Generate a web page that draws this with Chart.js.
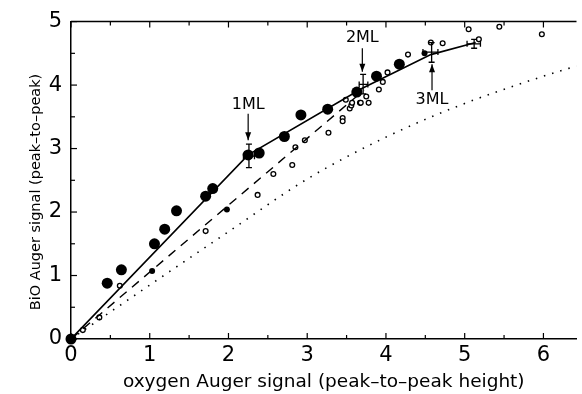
<!DOCTYPE html>
<html>
<head>
<meta charset="utf-8">
<script src="https://cdn.jsdelivr.net/npm/chart.js@4/dist/chart.umd.min.js"></script>
<style>
  html, body { margin: 0; padding: 0; background: #fff; }
  #wrap { width: 582px; height: 394px; position: relative; }
</style>
</head>
<body>
<div id="wrap"><canvas id="augerChart"></canvas></div>
<script>
"use strict";

// large filled circles (main series)
const bigX = [0, 0.46, 0.64, 1.06, 1.19, 1.34, 1.71, 1.80, 2.25, 2.39, 2.71, 2.92, 3.26, 3.63, 3.88, 4.17];
const bigY = [0, 0.88, 1.09, 1.50, 1.73, 2.02, 2.25, 2.37, 2.90, 2.93, 3.19, 3.53, 3.62, 3.89, 4.14, 4.33];

// small filled points
const smallX = [1.03, 1.98, 4.49];
const smallY = [1.07, 2.04, 4.50];

// small open circles
const openX = [0.15, 0.36, 0.62, 1.71, 2.37, 2.57, 2.81, 2.85, 2.97, 3.27, 3.45, 3.45, 3.49, 3.54, 3.56,
  3.57, 3.67, 3.68, 3.75, 3.78, 3.91, 3.96, 4.02, 4.28, 4.57, 4.72, 5.05, 5.18, 5.44, 5.98];
const openY = [0.14, 0.34, 0.84, 1.70, 2.27, 2.60, 2.74, 3.02, 3.13, 3.25, 3.48, 3.43, 3.77, 3.63, 3.68,
  3.72, 3.72, 3.72, 3.82, 3.72, 3.93, 4.05, 4.20, 4.48, 4.67, 4.66, 4.88, 4.72, 4.92, 4.80];

// curves
const solidX = [0, 2.25, 3.70, 4.57, 5.14];
const solidY = [0, 2.90, 3.95, 4.48, 4.67];
const dashedX = [0, 3.72];
const dashedY = [0, 3.92];
const dottedX = [0, 1, 2, 3, 4, 5, 6, 6.42];
const dottedY = [0, 0.85, 1.69, 2.52, 3.18, 3.71, 4.14, 4.30];

// error bars
const errX = [2.26, 3.71, 4.58, 5.12];
const errY = [2.88, 4.01, 4.52, 4.65];
const errYLo = [2.70, 3.86, 4.36, 4.58];
const errYHi = [3.07, 4.17, 4.67, 4.72];
const errXLo = [2.19, 3.66, 4.47, 5.03];
const errXHi = [2.33, 3.77, 4.66, 5.20];

// monolayer labels
const mlText = ["1ML", "2ML", "3ML"];
const mlX = [2.25, 3.70, 4.585];
const mlTextY = [3.69, 4.75, 3.77];
const mlArrowFrom = [3.55, 4.58, 3.92];
const mlArrowTo = [3.13, 4.21, 4.33];

const xTicks = [0, 1, 2, 3, 4, 5, 6];
const yTicks = [0, 1, 2, 3, 4, 5];
const yTitle = "BiO Auger signal (peak–to–peak)";

const toPoints = (xs, ys) => xs.map((x, i) => ({ x: x, y: ys[i] }));

const FONT = "'DejaVu Sans', sans-serif";

const extrasPlugin = {
  id: "extras",
  afterDatasetsDraw(chart) {
    const ctx = chart.ctx;
    const xs = chart.scales.x;
    const ys = chart.scales.y;
    const area = chart.chartArea;
    ctx.save();
    ctx.strokeStyle = "#000";
    ctx.fillStyle = "#000";

    // top frame line
    ctx.lineWidth = 1.5;
    ctx.beginPath();
    ctx.moveTo(area.left, area.top);
    ctx.lineTo(area.right, area.top);
    ctx.stroke();

    // inward ticks
    ctx.lineWidth = 1.2;
    for (let v = 0; v <= 6.4; v += 0.5) {
      const px = xs.getPixelForValue(v);
      const len = Number.isInteger(v) ? 6 : 4;
      ctx.beginPath();
      ctx.moveTo(px, area.bottom);
      ctx.lineTo(px, area.bottom - len);
      ctx.moveTo(px, area.top);
      ctx.lineTo(px, area.top + len);
      ctx.stroke();
    }
    for (let v = 0; v <= 5; v += 0.5) {
      const py = ys.getPixelForValue(v);
      const len = Number.isInteger(v) ? 6 : 4;
      ctx.beginPath();
      ctx.moveTo(area.left, py);
      ctx.lineTo(area.left + len, py);
      ctx.stroke();
    }

    // error bars
    ctx.lineWidth = 1.3;
    errX.forEach((x, i) => {
      const px = xs.getPixelForValue(x);
      const py = ys.getPixelForValue(errY[i]);
      const top = ys.getPixelForValue(errYHi[i]);
      const bot = ys.getPixelForValue(errYLo[i]);
      const l = xs.getPixelForValue(errXLo[i]);
      const r = xs.getPixelForValue(errXHi[i]);
      ctx.beginPath();
      ctx.moveTo(px, top); ctx.lineTo(px, bot);
      ctx.moveTo(px - 3, top); ctx.lineTo(px + 3, top);
      ctx.moveTo(px - 3, bot); ctx.lineTo(px + 3, bot);
      ctx.moveTo(l, py); ctx.lineTo(r, py);
      ctx.moveTo(l, py - 3); ctx.lineTo(l, py + 3);
      ctx.moveTo(r, py - 3); ctx.lineTo(r, py + 3);
      ctx.stroke();
    });

    // monolayer labels and arrows
    ctx.font = "16px " + FONT;
    ctx.textAlign = "center";
    ctx.textBaseline = "middle";
    mlText.forEach((t, i) => {
      const px = xs.getPixelForValue(mlX[i]);
      ctx.fillText(t, px, ys.getPixelForValue(mlTextY[i]));
      const y0 = ys.getPixelForValue(mlArrowFrom[i]);
      const y1 = ys.getPixelForValue(mlArrowTo[i]);
      const dir = y1 > y0 ? 1 : -1;
      ctx.lineWidth = 1.2;
      ctx.beginPath();
      ctx.moveTo(px, y0);
      ctx.lineTo(px, y1);
      ctx.stroke();
      ctx.beginPath();
      ctx.moveTo(px, y1);
      ctx.lineTo(px - 3, y1 - dir * 8);
      ctx.lineTo(px + 3, y1 - dir * 8);
      ctx.closePath();
      ctx.fill();
    });

    // y axis title, sits a bit below the plot centre in the original
    ctx.font = "14.5px " + FONT;
    ctx.translate(36, 192);
    ctx.rotate(-Math.PI / 2);
    ctx.fillText(yTitle, 0, 0);
    ctx.restore();
  },
};

const ctx = document.getElementById("augerChart");
new Chart(ctx, {
  type: "scatter",
  data: {
    datasets: [
      {
        data: toPoints(dottedX, dottedY),
        showLine: true,
        borderColor: "#000",
        borderWidth: 1.6,
        borderDash: [1.5, 7],
        pointRadius: 0,
        cubicInterpolationMode: "monotone",
        tension: 0.4,
      },
      {
        data: toPoints(dashedX, dashedY),
        showLine: true,
        borderColor: "#000",
        borderWidth: 1.4,
        borderDash: [9, 7],
        pointRadius: 0,
      },
      {
        data: toPoints(solidX, solidY),
        showLine: true,
        borderColor: "#000",
        borderWidth: 1.6,
        pointRadius: 0,
      },
      {
        data: toPoints(openX, openY),
        showLine: false,
        pointRadius: 2.4,
        pointBorderWidth: 1.3,
        pointBackgroundColor: "#fff",
        pointBorderColor: "#000",
        clip: false,
      },
      {
        data: toPoints(smallX, smallY),
        showLine: false,
        pointRadius: 3,
        pointBorderWidth: 0,
        pointBackgroundColor: "#000",
        clip: false,
      },
      {
        data: toPoints(bigX, bigY),
        showLine: false,
        pointRadius: 5.5,
        pointBorderWidth: 0,
        pointBackgroundColor: "#000",
        clip: false,
      },
    ],
  },
  options: {
    responsive: true,
    maintainAspectRatio: false,
    animation: false,
    layout: { padding: { top: 19, right: 0, left: 0, bottom: 0 } },
    plugins: {
      legend: { display: false },
      tooltip: { enabled: false },
    },
    scales: {
      x: {
        type: "linear",
        min: 0,
        max: 6.42,
        afterFit: (scale) => { scale.height = 55; },
        afterBuildTicks: (scale) => { scale.ticks = xTicks.map((v) => ({ value: v })); },
        ticks: {
          includeBounds: false,
          color: "#000",
          padding: 4,
          font: { family: FONT, size: 21 },
        },
        grid: { display: false, drawTicks: false },
        border: { display: true, color: "#000", width: 1.5 },
        title: {
          display: true,
          text: "oxygen Auger signal (peak–to–peak height)",
          color: "#000",
          font: { family: FONT, size: 18.5 },
          padding: { top: 0, bottom: 1 },
        },
      },
      y: {
        type: "linear",
        min: 0,
        max: 5,
        afterFit: (scale) => { scale.width = 71; },
        afterBuildTicks: (scale) => { scale.ticks = yTicks.map((v) => ({ value: v })); },
        ticks: {
          includeBounds: false,
          color: "#000",
          padding: 9,
          font: { family: FONT, size: 21 },
        },
        grid: { display: false, drawTicks: false },
        border: { display: true, color: "#000", width: 1.5 },
      },
    },
  },
  plugins: [extrasPlugin],
});
</script>
</body>
</html>
